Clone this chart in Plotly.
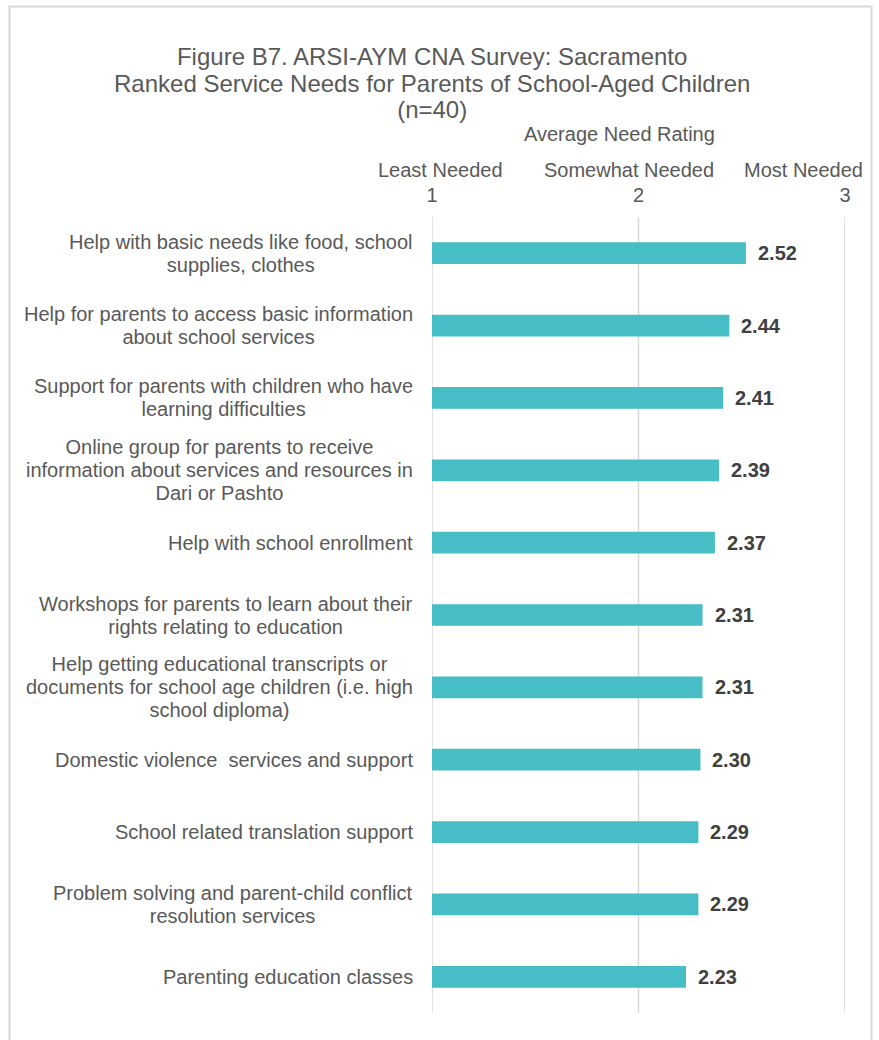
import plotly.graph_objects as go

# Survey results: average need rating per service (1 = least, 3 = most needed)
services = [
    "Help with basic needs like food, school<br>supplies, clothes",
    "Help for parents to access basic information<br>about school services",
    "Support for parents with children who have<br>learning difficulties",
    "Online group for parents to receive<br>information about services and resources in<br>Dari or Pashto",
    "Help with school enrollment",
    "Workshops for parents to learn about their<br>rights relating to education",
    "Help getting educational transcripts or<br>documents for school age children (i.e. high<br>school diploma)",
    "Domestic violence  services and support",
    "School related translation support",
    "Problem solving and parent-child conflict<br>resolution services",
    "Parenting education classes",
]
ratings = [2.52, 2.44, 2.41, 2.39, 2.37, 2.31, 2.31, 2.30, 2.29, 2.29, 2.23]

scale_values = [1, 2, 3]
scale_names = ["Least Needed", "Somewhat Needed", "Most Needed"]
scale_name_x = [1.04, 1.955, 2.80]

title_lines = [
    "Figure B7. ARSI-AYM CNA Survey: Sacramento",
    "Ranked Service Needs for Parents of School-Aged Children",
    "(n=40)",
]

FONT = "Liberation Sans, Arial, sans-serif"
GREY = "#595959"
BAR = "#47BDC6"
GRID = "#D9D9D9"


def sized(text, px):
    # wrap each line in a span so glyph size can differ from line spacing
    return "<br>".join(f'<span style="font-size:{px}px">{ln}</span>' for ln in text.split("<br>"))


fig = go.Figure()
fig.add_trace(go.Bar(
    x=[r - scale_values[0] for r in ratings],
    base=scale_values[0],
    y=list(range(len(services))),
    orientation="h",
    marker=dict(color=BAR, line=dict(width=0)),
    width=0.3,
    hoverinfo="skip",
))

annotations = []
# category labels: centred lines inside a right-aligned block
for i, s in enumerate(services):
    annotations.append(dict(
        x=0, xref="paper", y=i, yref="y", text=sized(s, 20), showarrow=False,
        xanchor="right", yanchor="middle", align="center", xshift=-17,
        font=dict(family=FONT, size=17.5, color=GREY),
    ))
# value labels at the end of each bar
for i, r in enumerate(ratings):
    annotations.append(dict(
        x=r, xref="x", y=i, yref="y", text=f"<b>{r:.2f}</b>", showarrow=False,
        xanchor="left", yanchor="middle", xshift=10,
        font=dict(family=FONT, size=20, color="#404040"),
    ))
# scale descriptors above the axis numbers
for xv, name in zip(scale_name_x, scale_names):
    annotations.append(dict(
        x=xv, xref="x", y=1, yref="paper", text=name, showarrow=False,
        xanchor="center", yanchor="middle", yshift=47,
        font=dict(family=FONT, size=20, color=GREY),
    ))
annotations.append(dict(
    x=1.91, xref="x", y=1, yref="paper", text="Average Need Rating", showarrow=False,
    xanchor="center", yanchor="middle", yshift=83,
    font=dict(family=FONT, size=20, color=GREY),
))
# chart title
annotations.append(dict(
    x=0, xref="paper", y=1, yref="paper", text=sized("<br>".join(title_lines), 24),
    showarrow=False, xanchor="center", yanchor="middle", align="center", yshift=134,
    font=dict(family=FONT, size=20.5, color=GREY),
))

# vertical gridlines at each scale value
shapes = [dict(
    type="line", xref="x", yref="paper", x0=v, x1=v, y0=0, y1=1,
    line=dict(color=GRID, width=1.5), layer="below",
) for v in scale_values]
# chart border
shapes.append(dict(
    type="rect", xref="paper", yref="paper",
    x0=(9.5 - 432) / 413, x1=(871.5 - 432) / 413,
    y0=-0.2, y1=1 + (217 - 6.5) / 796,
    line=dict(color=GRID, width=2), layer="below",
))

fig.update_layout(
    width=879, height=1040,
    margin=dict(l=432, r=34, t=217, b=27),
    paper_bgcolor="white", plot_bgcolor="white",
    showlegend=False,
    xaxis=dict(
        side="top", range=[1, 3], tickvals=scale_values,
        showgrid=False, zeroline=False, showline=False, ticks="",
        tickfont=dict(family=FONT, size=20, color=GREY),
        ticklabelstandoff=10,
    ),
    yaxis=dict(
        range=[len(services) - 0.5, -0.5], showticklabels=False,
        showgrid=False, zeroline=False, showline=False, ticks="",
    ),
    annotations=annotations,
    shapes=shapes,
)

fig.write_html("out.html")
